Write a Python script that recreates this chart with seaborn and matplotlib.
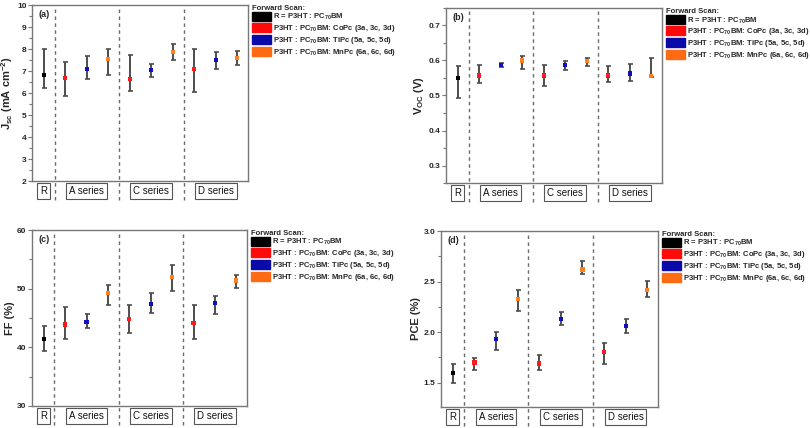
import numpy as np
import pandas as pd
import matplotlib
matplotlib.use("Agg")
import matplotlib.pyplot as plt
import seaborn as sns
from matplotlib.patches import Patch
from matplotlib.ticker import MultipleLocator, AutoMinorLocator
import matplotlib.transforms as mtrans

sns.set_style("white")
plt.rcParams["font.family"] = ["Liberation Sans", "DejaVu Sans"]
plt.rcParams["mathtext.fontset"] = "custom"
plt.rcParams["mathtext.rm"] = "Liberation Sans:bold"
plt.rcParams["mathtext.default"] = "rm"

# ---------------- data ----------------
samples = ["R", "3a", "5a", "6a", "3c", "5c", "6c", "3d", "5d", "6d"]
kinds = ["R", "Co", "Ti", "Mn", "Co", "Ti", "Mn", "Co", "Ti", "Mn"]
positions = [1, 2, 3, 4, 5, 6, 7, 8, 9, 10]
group_names = ["R", "A series", "C series", "D series"]
group_centers = [1, 3, 6, 9]
separators = [1.5, 4.5, 7.5]

jsc_val = [6.82, 6.67, 7.09, 7.53, 6.64, 7.03, 7.85, 7.09, 7.50, 7.58]
jsc_lo = [6.21, 5.86, 6.64, 6.80, 6.09, 6.73, 7.48, 6.03, 7.09, 7.27]
jsc_hi = [7.98, 7.39, 7.70, 7.98, 7.74, 7.30, 8.24, 7.98, 7.88, 7.92]

voc_val = [0.549, 0.557, 0.588, 0.600, 0.557, 0.586, 0.598, 0.557, 0.563, 0.555]
voc_lo = [0.494, 0.535, 0.582, 0.577, 0.528, 0.574, 0.584, 0.538, 0.541, 0.553]
voc_hi = [0.583, 0.587, 0.593, 0.614, 0.586, 0.600, 0.608, 0.583, 0.590, 0.606]

ff_val = [41.4, 43.9, 44.3, 49.2, 44.9, 47.4, 52.0, 44.2, 47.5, 51.4]
ff_lo = [39.4, 41.5, 43.3, 47.2, 42.5, 45.8, 49.6, 41.5, 45.6, 50.1]
ff_hi = [43.6, 46.8, 45.6, 50.7, 47.3, 49.2, 54.1, 47.3, 48.8, 52.4]

pce_val = [1.60, 1.70, 1.93, 2.33, 1.69, 2.13, 2.62, 1.80, 2.06, 2.42]
pce_lo = [1.50, 1.625, 1.82, 2.21, 1.63, 2.07, 2.57, 1.69, 1.99, 2.35]
pce_hi = [1.69, 1.74, 2.00, 2.42, 1.77, 2.20, 2.70, 1.89, 2.13, 2.51]

legend_labels = ["R = P3HT : PC$_{70}$BM",
                 "P3HT : PC$_{70}$BM: CoPc (3a, 3c, 3d)",
                 "P3HT : PC$_{70}$BM: TiPc (5a, 5c, 5d)",
                 "P3HT : PC$_{70}$BM: MnPc (6a, 6c, 6d)"]
legend_colors = ["#000000", "#ff0a0a", "#0a0aa8", "#ff6a14"]
point_palette = {"R": "#000000", "Co": "#ff1a1a", "Ti": "#1010c0", "Mn": "#ff8020"}

panels = [
    dict(tag="(a)", ylabel="J$_{sc}$ (mA cm$^{-2}$)", val=jsc_val, lo=jsc_lo, hi=jsc_hi,
         ylim=(2, 10), major=1, minor=2, fmt="{:.0f}",
         rect=[32/810, 1-181/428, 216/810, 176/428]),
    dict(tag="(b)", ylabel="V$_{OC}$ (V)", val=voc_val, lo=voc_lo, hi=voc_hi,
         ylim=(0.25, 0.75), major=0.1, minor=2, fmt="{:.1f}",
         rect=[446/810, 1-183/428, 216/810, 175/428]),
    dict(tag="(c)", ylabel="FF (%)", val=ff_val, lo=ff_lo, hi=ff_hi,
         ylim=(30, 60), major=10, minor=2, fmt="{:.0f}",
         rect=[32/810, 1-406/428, 215/810, 176/428]),
    dict(tag="(d)", ylabel="PCE (%)", val=pce_val, lo=pce_lo, hi=pce_hi,
         ylim=(1.26, 3.0), major=0.5, minor=2, fmt="{:.1f}",
         rect=[441/810, 1-407/428, 217/810, 176/428]),
]

fig = plt.figure(figsize=(8.1, 4.28), dpi=100)
spine_color = "#777777"

for p in panels:
    ax = fig.add_axes(p["rect"])
    df = pd.DataFrame({"pos": positions, "val": p["val"], "kind": kinds,
                       "lo": p["lo"], "hi": p["hi"]})
    val = np.array(p["val"])
    yerr = np.vstack([val - np.array(p["lo"]), np.array(p["hi"]) - val])
    ax.errorbar(df["pos"], df["val"], yerr=yerr, fmt="none", ecolor="#4d4d4d",
                elinewidth=1.4, capsize=1.8, capthick=1.2, zorder=2)
    sns.scatterplot(data=df, x="pos", y="val", hue="kind", palette=point_palette,
                    marker="s", s=9, linewidth=0, legend=False, ax=ax, zorder=3)
    ax.set_xlim(0.45, 10.5)
    ax.set_ylim(*p["ylim"])
    ax.set_xticks([])
    ax.yaxis.set_major_locator(MultipleLocator(p["major"]))
    ax.yaxis.set_minor_locator(AutoMinorLocator(p["minor"]))
    ax.set_yticklabels([p["fmt"].format(t) for t in ax.get_yticks()])
    ax.tick_params(axis="y", which="major", length=3, width=0.8, color=spine_color,
                   labelsize=6, pad=1, left=True)
    ax.tick_params(axis="y", which="minor", length=2, width=0.8, color=spine_color, left=True)
    for lbl in ax.get_yticklabels():
        lbl.set_fontweight("bold")
    for s in ax.spines.values():
        s.set_color(spine_color)
        s.set_linewidth(1.0)
    ax.set_xlabel("")
    ax.set_ylabel(p["ylabel"], fontsize=8, fontweight="bold", labelpad=1.5)
    ax.text(0.03, 0.97, p["tag"], transform=ax.transAxes, fontsize=6.5,
            fontweight="bold", va="top", ha="left")
    for sx in separators:
        ax.axvline(sx, ymin=-0.11, ymax=1, color="#6a6a6a", lw=1.0,
                   ls=(0, (2.5, 2.5)), clip_on=False, zorder=1)
    trans = mtrans.blended_transform_factory(ax.transData, ax.transAxes)
    for name, cx in zip(group_names, group_centers):
        ax.text(cx, -0.055, name, transform=trans, ha="center", va="center",
                fontsize=7, color="#111111",
                bbox=dict(boxstyle="square,pad=0.3", fc="white", ec="#555555", lw=0.8))
    handles = [Patch(facecolor=c, edgecolor=c) for c in legend_colors]
    leg = ax.legend(handles=handles, labels=legend_labels, loc="upper left",
                    bbox_to_anchor=(1.005, 1.02), frameon=False, fontsize=5.5,
                    title="Forward Scan:", alignment="left",
                    title_fontproperties={"weight": "bold", "size": 5.5},
                    handlelength=2.5, handleheight=1.35, handletextpad=0.25,
                    labelspacing=0.1, borderaxespad=0.2, borderpad=0.2)
    for t in leg.get_texts():
        t.set_fontweight("bold")

fig.savefig("out.png", dpi=100)
